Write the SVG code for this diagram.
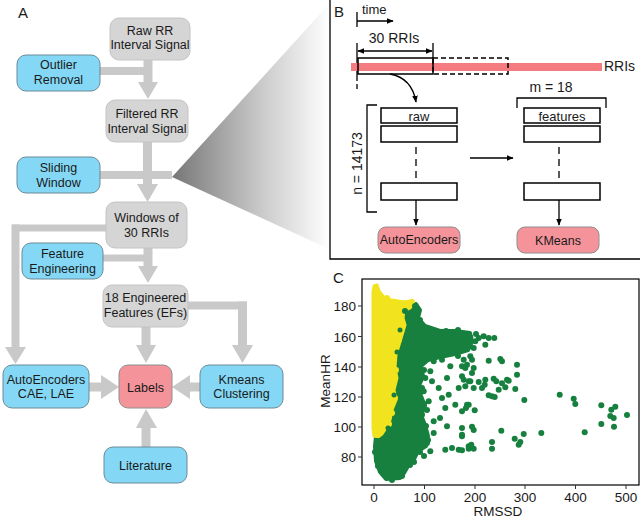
<svg xmlns="http://www.w3.org/2000/svg" width="640" height="518" viewBox="0 0 640 518">
<style>
text{font-family:"Liberation Sans",Arial,sans-serif;fill:#1a1a1a}
.t{font-size:12.5px;text-anchor:middle}
.lbl{font-size:15px}
.gray{fill:#D5D5D5;stroke:#C4C4C4;stroke-width:1}
.blue{fill:#84D8F6;stroke:#6B8A96;stroke-width:1}
.pink{fill:#F5939A;stroke:#8E8E8E;stroke-width:1}
.con{fill:#C9C9C9}
.bk{fill:none;stroke:#000;stroke-width:1.5}
.ln{fill:none;stroke:#000;stroke-width:1.3}
.ax{font-size:13.5px}
.g{fill:#17803F}
.y{fill:#F1E41E}
</style>
<defs>
<linearGradient id="wedge" gradientUnits="userSpaceOnUse" x1="172" y1="0" x2="330" y2="0">
<stop offset="0" stop-color="#767676"/>
<stop offset="0.55" stop-color="#c8c8c8"/>
<stop offset="1" stop-color="#ffffff"/>
</linearGradient>
<marker id="ah" viewBox="0 0 10 10" refX="9" refY="5" markerWidth="7" markerHeight="7" orient="auto" markerUnits="userSpaceOnUse">
<path d="M0,1 L10,5 L0,9 Z" fill="#000"/>
</marker>
<marker id="ahs" viewBox="0 0 10 10" refX="1" refY="5" markerWidth="7" markerHeight="7" orient="auto" markerUnits="userSpaceOnUse">
<path d="M10,1 L0,5 L10,9 Z" fill="#000"/>
</marker>
</defs>
<rect width="640" height="518" fill="#fff"/>

<!-- zoom wedge -->
<polygon points="172,177 329,4 329,249" fill="url(#wedge)"/>

<!-- Panel A -->
<text x="18" y="18" class="lbl">A</text>
<g id="connectorsA" class="con">
<rect x="143.5" y="60" width="9" height="23"/>
<polygon points="138,82 158,82 148,99"/>
<rect x="100" y="67" width="45" height="8"/>
<rect x="143" y="142" width="9" height="43"/>
<polygon points="137,184 158,184 147.5,202"/>
<rect x="100" y="171" width="72" height="8"/>
<rect x="12" y="224.5" width="94" height="7"/>
<rect x="11.5" y="224.5" width="8" height="124"/>
<polygon points="5,347 26,347 15.5,364"/>
<rect x="143.5" y="248" width="9" height="19"/>
<rect x="103" y="254.5" width="41" height="7"/>
<polygon points="138,266 158,266 148,283"/>
<rect x="141.5" y="327" width="9" height="19"/>
<polygon points="136,345 156,345 146,363"/>
<rect x="188" y="301.5" width="59" height="8"/>
<rect x="238" y="301.5" width="9" height="45"/>
<polygon points="232,345 253,345 242.5,363"/>
<rect x="89" y="382.5" width="14" height="9"/>
<polygon points="101,375 101,399 119,387"/>
<rect x="189" y="382.5" width="11" height="9"/>
<polygon points="190,375 190,399 172,387"/>
<rect x="141.5" y="427" width="9" height="20"/>
<polygon points="136,428 157,428 146,409"/>
</g>
<g id="raw"><rect x="110" y="18" width="80" height="42" rx="9" class="gray"/><text x="150" y="35" class="t">Raw RR</text><text x="150" y="49" class="t">Interval Signal</text></g>
<g id="outlier"><rect x="17" y="55" width="83" height="36" rx="9" class="blue"/><text x="58.5" y="69" class="t">Outlier</text><text x="58.5" y="84" class="t">Removal</text></g>
<g id="filtered"><rect x="106" y="100" width="82" height="42" rx="9" class="gray"/><text x="147" y="118" class="t">Filtered RR</text><text x="147" y="132.5" class="t">Interval Signal</text></g>
<g id="sliding"><rect x="17" y="157" width="83" height="36" rx="9" class="blue"/><text x="58.5" y="172" class="t">Sliding</text><text x="58.5" y="187" class="t">Window</text></g>
<g id="windows"><rect x="106" y="202" width="81" height="46" rx="9" class="gray"/><text x="146.5" y="221.5" class="t">Windows of</text><text x="146.5" y="236.5" class="t">30 RRIs</text></g>
<g id="featureEng"><rect x="22" y="243" width="81" height="36" rx="9" class="blue"/><text x="62.5" y="257.5" class="t">Feature</text><text x="62.5" y="272.5" class="t">Engineering</text></g>
<g id="engineered"><rect x="103" y="285" width="85" height="42" rx="9" class="gray"/><text x="145.5" y="302" class="t">18 Engineered</text><text x="145.5" y="317" class="t">Features (EFs)</text></g>
<g id="autoencodersA"><rect x="3" y="365" width="86" height="43" rx="9" class="blue"/><text x="46" y="383.5" class="t">AutoEncoders</text><text x="46" y="397.5" class="t">CAE, LAE</text></g>
<g id="labels"><rect x="119" y="365" width="53" height="43" rx="9" class="pink"/><text x="145.5" y="391.5" class="t">Labels</text></g>
<g id="kmeansA"><rect x="200" y="365" width="83" height="43" rx="9" class="blue"/><text x="241.5" y="383.5" class="t">Kmeans</text><text x="241.5" y="397.5" class="t">Clustering</text></g>
<g id="literature"><rect x="104" y="447" width="83" height="36" rx="9" class="blue"/><text x="145.5" y="469.5" class="t">Literature</text></g>

<!-- Panel B -->
<path d="M330,0 V259 H640" fill="none" stroke="#000" stroke-width="1.3"/>
<text x="334" y="17" class="lbl">B</text>
<g id="connectorsB">
<line x1="357" y1="12" x2="357" y2="27" class="ln"/>
<line x1="357" y1="21" x2="393" y2="21" class="ln" marker-end="url(#ah)"/>
<line x1="358" y1="51" x2="432" y2="51" class="ln" marker-start="url(#ahs)" marker-end="url(#ah)"/>
<line x1="357" y1="43" x2="357" y2="76" class="ln"/>
<line x1="357" y1="76" x2="357" y2="91" class="ln" stroke-dasharray="5,3"/>
<line x1="433" y1="43" x2="433" y2="58" class="ln"/>
<line x1="508" y1="66" x2="528" y2="66" class="ln" marker-end="url(#ah)"/>
<path d="M390,74 Q412,78 416,102" class="ln" marker-end="url(#ah)"/>
<path d="M517,108 V98 H606 V108" class="ln"/>
<path d="M377,105 H367 V212 H377" class="ln"/>
<line x1="416" y1="147" x2="416" y2="178" class="ln" stroke-dasharray="7,5"/>
<line x1="559" y1="147" x2="559" y2="178" class="ln" stroke-dasharray="7,5"/>
<line x1="416" y1="200" x2="416" y2="225" class="ln" marker-end="url(#ah)"/>
<line x1="559" y1="200" x2="559" y2="225" class="ln" marker-end="url(#ah)"/>
<line x1="470" y1="158" x2="513" y2="158" class="ln" marker-end="url(#ah)"/>
</g>
<g id="rriBand">
<rect x="351" y="63" width="251" height="8" fill="#F47B7F"/>
<rect x="358" y="58" width="75" height="16" class="bk"/>
<rect x="433" y="58" width="75" height="16" class="bk" stroke-dasharray="5,3"/>
<text x="604" y="71" style="font-size:14px">RRIs</text>
</g>
<text x="362" y="14" style="font-size:13px">time</text>
<text x="394" y="43" style="font-size:14px;text-anchor:middle">30 RRIs</text>
<text x="551" y="92" style="font-size:14px;text-anchor:middle">m = 18</text>
<text transform="translate(362,163.5) rotate(-90)" style="font-size:14px;text-anchor:middle">n = 14173</text>
<g id="rawMatrix">
<rect x="381" y="108" width="76" height="15" class="bk"/>
<rect x="381" y="126" width="76" height="16" class="bk"/>
<rect x="381" y="183" width="76" height="17" class="bk"/>
<text x="419" y="120.5" style="font-size:13px;text-anchor:middle">raw</text>
</g>
<g id="featMatrix">
<rect x="524" y="108" width="76" height="15" class="bk"/>
<rect x="524" y="126" width="76" height="16" class="bk"/>
<rect x="524" y="183" width="76" height="17" class="bk"/>
<text x="562" y="120.5" style="font-size:13px;text-anchor:middle">features</text>
</g>
<g id="autoencodersB"><rect x="378" y="227" width="82" height="26" rx="8" class="pink"/><text x="419" y="244" class="t">AutoEncoders</text></g>
<g id="kmeansB"><rect x="517" y="227" width="82" height="26" rx="8" class="pink"/><text x="558" y="244.5" class="t">KMeans</text></g>

<!-- Panel C -->
<text x="333" y="283" class="lbl">C</text>
<g id="scatter">
<polygon class="g" stroke="#17803F" stroke-width="4" stroke-linejoin="round" points="401,310 408,305 416,304 420,310 418,318 425,326 440,331 455,331 470,333 472,342 468,350 455,354 440,357 428,360 421,366 423,376 419,386 421,396 425,406 421,415 425,425 428,436 426,446 418,451 414,459 408,466 404,473 400,478 386,479 380,472 376,461 375,446 376,436 382,434 386,428 390,420 392,410 396,400 394,390 397,378 395,368 396,355 399,345 402,335 405,325 403,318"/>
<polygon class="y" stroke="#F1E41E" stroke-width="3" stroke-linejoin="round" points="373,292 374,286 377,285 379,291 385,299 392,300 398,301 404,302 410,301 413,304 410,308 404,311 403,318 405,325 402,335 399,345 396,355 395,368 397,378 394,390 396,400 392,410 390,420 386,428 382,434 378,437 374,436 373,428"/>
<g class="y">
<circle cx="412" cy="302" r="3"/><circle cx="406" cy="303" r="3"/><circle cx="401" cy="322" r="3"/><circle cx="399" cy="340" r="3"/><circle cx="396" cy="370" r="3"/><circle cx="395" cy="398" r="3"/><circle cx="392" cy="413" r="3"/><circle cx="389" cy="424" r="3"/><circle cx="394" cy="382" r="3"/><circle cx="380" cy="296" r="3"/><circle cx="387" cy="298" r="3"/>
</g>
<g class="g">
<circle cx="415" cy="306" r="3"/><circle cx="415" cy="311" r="3"/><circle cx="405" cy="311" r="3"/><circle cx="400" cy="330" r="2.5"/><circle cx="397" cy="352" r="2.5"/><circle cx="394" cy="395" r="2.5"/><circle cx="388" cy="428" r="2.5"/>
<circle cx="377" cy="441" r="3"/><circle cx="375" cy="452" r="3"/><circle cx="378" cy="466" r="3"/><circle cx="392" cy="480" r="3"/><circle cx="402" cy="476" r="3"/><circle cx="410" cy="465" r="3"/><circle cx="420" cy="452" r="3"/><circle cx="428" cy="440" r="3"/><circle cx="426" cy="426" r="3"/><circle cx="424" cy="404" r="3"/><circle cx="422" cy="388" r="3"/><circle cx="424" cy="370" r="3"/><circle cx="420" cy="320" r="3"/><circle cx="430" cy="329" r="3"/><circle cx="446" cy="331" r="3"/><circle cx="458" cy="330" r="3"/>
<circle cx="468.7" cy="334.7" r="3"/><circle cx="465.3" cy="338" r="3"/><circle cx="462" cy="339.7" r="3"/><circle cx="467" cy="339.7" r="3"/><circle cx="470.3" cy="337.3" r="3"/><circle cx="475.3" cy="341.3" r="3"/><circle cx="478.7" cy="338" r="3"/><circle cx="483.7" cy="336.3" r="3"/><circle cx="488.7" cy="338" r="3"/><circle cx="494.3" cy="338" r="3"/><circle cx="485.3" cy="344.7" r="3"/><circle cx="469.3" cy="346.3" r="3"/><circle cx="473.7" cy="348" r="3"/>
<circle cx="470.3" cy="356.3" r="3"/><circle cx="472" cy="359.7" r="3"/><circle cx="463.7" cy="359.7" r="3"/><circle cx="462" cy="366.3" r="3"/><circle cx="467" cy="364.7" r="3"/><circle cx="473.7" cy="368" r="3"/><circle cx="465.3" cy="368" r="3"/><circle cx="488.7" cy="360.7" r="3"/><circle cx="500.3" cy="359" r="3"/><circle cx="502" cy="361.3" r="3"/><circle cx="517" cy="364.7" r="3"/><circle cx="472" cy="373" r="3"/><circle cx="517" cy="374.7" r="3"/>
<circle cx="463.7" cy="379.7" r="3"/><circle cx="470.3" cy="381.3" r="3"/><circle cx="465.3" cy="386.3" r="3"/><circle cx="478.7" cy="382" r="3"/><circle cx="485.3" cy="379.7" r="3"/><circle cx="484.7" cy="384.7" r="3"/><circle cx="482" cy="388" r="3"/><circle cx="473.7" cy="388" r="3"/><circle cx="493.7" cy="378.7" r="3"/><circle cx="496.3" cy="381.3" r="3"/><circle cx="502" cy="383.3" r="3"/><circle cx="507" cy="379.7" r="3"/><circle cx="508.7" cy="380.7" r="3"/><circle cx="505.3" cy="387.3" r="3"/><circle cx="498.7" cy="389.7" r="3"/><circle cx="515.3" cy="389" r="3"/>
<circle cx="488.7" cy="395.3" r="3"/><circle cx="492" cy="396.3" r="3"/><circle cx="494.7" cy="397" r="3"/><circle cx="524.3" cy="400" r="3"/><circle cx="559.7" cy="394.7" r="3"/><circle cx="573.7" cy="398.7" r="3"/><circle cx="575.3" cy="404" r="3"/><circle cx="601.3" cy="405.3" r="3"/><circle cx="611.3" cy="409.7" r="3"/><circle cx="615.3" cy="406.7" r="3"/><circle cx="610.3" cy="416" r="3"/><circle cx="613.7" cy="418" r="3"/><circle cx="627" cy="415" r="3"/><circle cx="601.3" cy="424" r="3"/><circle cx="614" cy="426.7" r="3"/>
<circle cx="467" cy="404.7" r="3"/><circle cx="466" cy="408" r="3"/><circle cx="474.7" cy="410.3" r="3"/><circle cx="462" cy="411.3" r="3"/><circle cx="462" cy="428" r="3"/><circle cx="472" cy="426.7" r="3"/><circle cx="473.7" cy="430" r="3"/><circle cx="501.3" cy="430.7" r="3"/><circle cx="462" cy="436.3" r="3"/><circle cx="541.3" cy="433" r="3"/><circle cx="523.7" cy="434" r="3"/><circle cx="584.7" cy="432.3" r="3"/><circle cx="514.7" cy="438.7" r="3"/><circle cx="520.3" cy="442" r="3"/><circle cx="518.7" cy="444.7" r="3"/><circle cx="492" cy="442" r="3"/><circle cx="492" cy="448.7" r="3"/><circle cx="471.3" cy="444.7" r="3"/><circle cx="468.7" cy="448.7" r="3"/><circle cx="473.7" cy="448.7" r="3"/><circle cx="462" cy="450.3" r="3"/>
<circle cx="450.3" cy="366.3" r="3"/><circle cx="447" cy="378" r="3"/><circle cx="462" cy="376.3" r="3"/><circle cx="468.7" cy="381.3" r="3"/><circle cx="458.7" cy="388" r="3"/><circle cx="432" cy="381.3" r="3"/><circle cx="438.7" cy="388" r="3"/><circle cx="428.7" cy="401.3" r="3"/><circle cx="442" cy="398" r="3"/><circle cx="445.3" cy="408" r="3"/><circle cx="448.7" cy="394.7" r="3"/><circle cx="455.3" cy="404.7" r="3"/><circle cx="468.7" cy="404.7" r="3"/><circle cx="422" cy="414.7" r="3"/><circle cx="433.7" cy="421.3" r="3"/><circle cx="447" cy="426.3" r="3"/><circle cx="462" cy="434.7" r="3"/><circle cx="433.7" cy="433" r="3"/><circle cx="452" cy="448" r="3"/><circle cx="458.7" cy="449.7" r="3"/><circle cx="468.7" cy="446.3" r="3"/><circle cx="445.3" cy="449.7" r="3"/><circle cx="430.3" cy="451.3" r="3"/><circle cx="417" cy="439.7" r="3"/><circle cx="425.3" cy="378" r="3"/><circle cx="423.7" cy="391.3" r="3"/><circle cx="430.3" cy="371.3" r="3"/><circle cx="433.7" cy="361.3" r="3"/><circle cx="442" cy="359.7" r="3"/><circle cx="423.7" cy="361.3" r="3"/>
<circle cx="476" cy="334" r="3"/><circle cx="458" cy="356" r="3"/><circle cx="427" cy="443" r="3"/><circle cx="424" cy="456" r="3"/><circle cx="414" cy="462" r="3"/><circle cx="440" cy="418" r="3"/><circle cx="427" cy="410" r="3"/>
</g>
</g>
<g id="axes">
<rect x="362" y="279" width="277" height="206" fill="none" stroke="#000" stroke-width="1.2"/>
<path d="M358,306 H362 M358,336.5 H362 M358,367 H362 M358,397 H362 M358,427 H362 M358,457 H362 M374,485 V489 M424.5,485 V489 M475,485 V489 M525,485 V489 M575.5,485 V489 M626,485 V489" stroke="#333" stroke-width="1"/>
<g class="ax" style="text-anchor:end">
<text x="356" y="311">180</text><text x="356" y="341.5">160</text><text x="356" y="372">140</text><text x="356" y="402">120</text><text x="356" y="432">100</text><text x="356" y="462">80</text>
</g>
<g class="ax" style="text-anchor:middle">
<text x="374" y="502">0</text><text x="424.5" y="502">100</text><text x="475" y="502">200</text><text x="525" y="502">300</text><text x="575.5" y="502">400</text><text x="626" y="502">500</text>
</g>
<text x="498" y="516" class="ax" style="text-anchor:middle">RMSSD</text>
<text transform="translate(330,381) rotate(-90)" class="ax" style="text-anchor:middle">MeanHR</text>
</g>
</svg>
